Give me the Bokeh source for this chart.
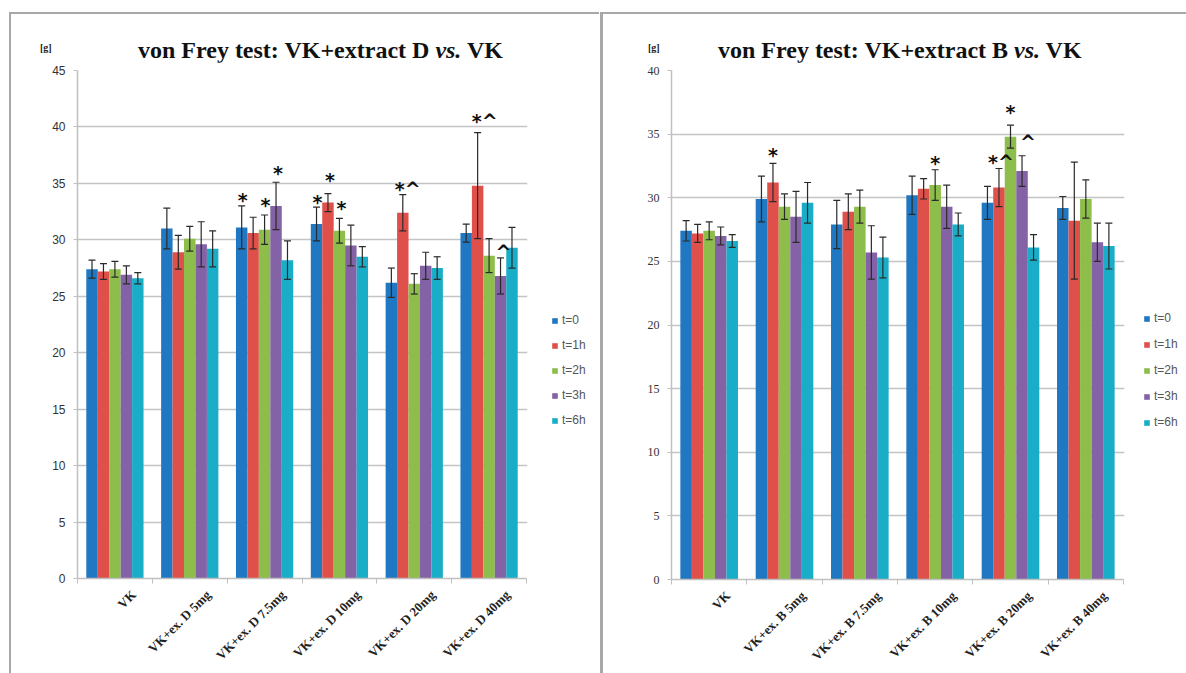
import math
from bokeh.plotting import figure
from bokeh.models import (Range1d, FixedTicker, Label, Legend, LegendItem, Whisker,
                          ColumnDataSource, BoxAnnotation, TeeHead, Div)
from bokeh.layouts import row, column
from bokeh.embed import file_html
from bokeh.resources import INLINE

# ---------------- data ----------------
series = ["t=0", "t=1h", "t=2h", "t=3h", "t=6h"]

cats_D = ["VK", "VK+ex. D 5mg", "VK+ex. D 7.5mg", "VK+ex. D 10mg", "VK+ex. D 20mg", "VK+ex. D 40mg"]
D_t0 = [27.4, 31.0, 31.1, 31.4, 26.2, 30.6]
D_t1 = [27.2, 28.9, 30.6, 33.3, 32.4, 34.8]
D_t2 = [27.4, 30.1, 30.9, 30.8, 26.1, 28.6]
D_t3 = [26.9, 29.6, 33.0, 29.5, 27.7, 26.8]
D_t6 = [26.6, 29.2, 28.2, 28.5, 27.5, 29.3]
D_e0 = [0.8, 1.8, 1.9, 1.5, 1.3, 0.8]
D_e1 = [0.7, 1.5, 1.4, 0.8, 1.6, 4.7]
D_e2 = [0.7, 1.1, 1.3, 1.1, 0.9, 1.5]
D_e3 = [0.8, 2.0, 2.1, 1.8, 1.2, 1.6]
D_e6 = [0.5, 1.6, 1.7, 0.9, 1.0, 1.8]

cats_B = ["VK", "VK+ex. B 5mg", "VK+ex. B 7.5mg", "VK+ex. B 10mg", "VK+ex. B 20mg", "VK+ex. B 40mg"]
B_t0 = [27.4, 29.9, 27.9, 30.2, 29.6, 29.2]
B_t1 = [27.2, 31.2, 28.9, 30.7, 30.8, 28.2]
B_t2 = [27.4, 29.3, 29.3, 31.0, 34.8, 29.9]
B_t3 = [27.0, 28.5, 25.7, 29.3, 32.1, 26.5]
B_t6 = [26.6, 29.6, 25.3, 27.9, 26.1, 26.2]
B_e0 = [0.8, 1.8, 1.9, 1.5, 1.3, 0.9]
B_e1 = [0.7, 1.5, 1.4, 0.8, 1.5, 4.6]
B_e2 = [0.7, 1.0, 1.3, 1.2, 0.9, 1.5]
B_e3 = [0.7, 2.0, 2.1, 1.7, 1.2, 1.5]
B_e6 = [0.5, 1.6, 1.6, 0.9, 1.0, 1.8]

# significance marks: (category index, series index, text)
marks_D = [(2, 0, "*"), (2, 2, "*"), (2, 3, "*"), (3, 0, "*"), (3, 1, "*"), (3, 2, "*"),
           (4, 1, "*^"), (5, 1, "*^"), (5, 3, "^")]
marks_B = [(1, 1, "*"), (3, 2, "*"), (4, 1, "*^"), (4, 2, "*"), (4, 3, "^")]

# ---------------- style / layout ----------------
colors = ["#1F78C1", "#E0504B", "#8DBD4A", "#8462A6", "#1AADC8"]
BAR_W = 0.153
LBL_SHIFT = 0.25
FRAME_GRAY = "#a8a8a8"
# pixel nudges for the marks (dx, dy up)
nudge_D = [(1, 6), (1, 10), (2, 9), (1, 5), (2, 14), (2, 10), (5, 6), (7, 12), (3, 6)]
nudge_B = [(0, 8), (0, 7), (2, 6), (0, 13), (6, 14)]

H = 671
TH = 62
NOMARGIN = (0, 0, 0, 0)


def strip(width, line_left, line_w):
    html = (f'<div style="position:relative;width:{width}px;height:{H}px;">'
            f'<div style="position:absolute;left:{line_left}px;top:12px;width:{line_w}px;'
            f'height:{H}px;background:{FRAME_GRAY};"></div>'
            f'<div style="position:absolute;left:{line_left}px;top:12px;width:{width}px;'
            f'height:2px;background:{FRAME_GRAY};"></div></div>')
    return Div(text=html, width=width, height=H, margin=NOMARGIN)


def title_div(width, part_a, left, gx):
    html = (f'<div style="position:relative;width:{width}px;height:{TH}px;">'
            f'<div style="position:absolute;left:0;top:12px;width:{width}px;height:2px;'
            f'background:{FRAME_GRAY};"></div>'
            f'<span style="position:absolute;left:{gx}px;top:43px;line-height:10px;'
            f"font-family:'Liberation Serif';font-weight:bold;font-size:10px;color:#222;"
            f'white-space:nowrap;">[g]</span>'
            f'<span style="position:absolute;left:{left}px;top:38px;line-height:24px;'
            f"font-family:'Liberation Serif';font-weight:bold;font-size:24px;color:#111;"
            f'white-space:nowrap;">{part_a} <i>vs.</i> VK</span></div>')
    return Div(text=html, width=width, height=TH, margin=NOMARGIN)


def chart(cats, means, errs, marks, nudges, ymax, width, bl, br, bt, frame_h, unit_px,
          tick_font, leg_loc, leg_spacing, gap_box):
    n = len(cats)
    height = H - TH
    bb = height - bt - frame_h
    x_end = (width - bl - br) / unit_px
    p = figure(width=width, height=height, output_backend="svg", toolbar_location=None,
               x_range=Range1d(0, x_end), y_range=Range1d(0, ymax),
               min_border_left=bl, min_border_right=br, min_border_top=bt, min_border_bottom=bb,
               outline_line_color=None, background_fill_color="white", border_fill_color="white",
               margin=NOMARGIN)
    p.xgrid.grid_line_color = None
    p.ygrid.grid_line_color = "#c4c4c4"
    p.ygrid.grid_line_width = 1.5
    p.yaxis.ticker = FixedTicker(ticks=list(range(0, ymax + 1, 5)))
    p.yaxis.axis_line_color = "#c0c0c0"
    p.yaxis.axis_line_width = 1.5
    p.yaxis.major_tick_line_color = "#c0c0c0"
    p.yaxis.major_tick_out = 4
    p.yaxis.major_tick_in = 0
    p.yaxis.minor_tick_line_color = None
    p.yaxis.major_label_standoff = 8
    p.yaxis.major_label_text_font = tick_font
    p.yaxis.major_label_text_font_size = "12px"
    p.yaxis.major_label_text_color = "#333333"

    label_ticks = [i + 0.5 + LBL_SHIFT for i in range(n)]
    p.xaxis.ticker = FixedTicker(ticks=label_ticks, minor_ticks=list(range(0, n + 1)))
    p.xaxis.major_label_overrides = {tk: c for tk, c in zip(label_ticks, cats)}
    p.xaxis.major_label_orientation = math.pi / 4
    p.xaxis.bounds = (0, n)
    p.xaxis.axis_line_color = "#c0c0c0"
    p.xaxis.axis_line_width = 1.5
    p.xaxis.major_tick_line_color = None
    p.xaxis.major_tick_out = 0
    p.xaxis.major_tick_in = 0
    p.xaxis.minor_tick_line_color = "#c0c0c0"
    p.xaxis.minor_tick_out = 5
    p.xaxis.minor_tick_in = 0
    p.xaxis.major_label_standoff = 9
    p.xaxis.major_label_text_font = "Liberation Serif"
    p.xaxis.major_label_text_font_style = "bold"
    p.xaxis.major_label_text_font_size = "13px"
    p.xaxis.major_label_text_color = "#222222"

    # the title box hides part of the top gridline; the legend area has no gridlines
    p.add_layout(BoxAnnotation(left=gap_box[0], right=gap_box[1], bottom=ymax - 0.4, top=ymax + 3,
                               fill_color="white", fill_alpha=1, line_alpha=0))
    p.add_layout(BoxAnnotation(left=n + 0.01, right=x_end + 1, bottom=-1, top=ymax + 3,
                               fill_color="white", fill_alpha=1, line_alpha=0))

    items = []
    for j, name in enumerate(series):
        xs = [i + 0.5 + (j - 2) * BAR_W for i in range(n)]
        src = ColumnDataSource(dict(x=xs, top=means[j],
                                    upper=[m + e for m, e in zip(means[j], errs[j])],
                                    lower=[m - e for m, e in zip(means[j], errs[j])]))
        r = p.vbar(x="x", top="top", width=BAR_W, source=src, fill_color=colors[j], line_color=None)
        items.append(LegendItem(label=name, renderers=[r]))
        p.add_layout(Whisker(base="x", upper="upper", lower="lower", source=src, line_color="#2a2a2a",
                             line_width=1.2, level="overlay",
                             upper_head=TeeHead(size=7, line_color="#2a2a2a", line_width=1.2),
                             lower_head=TeeHead(size=7, line_color="#2a2a2a", line_width=1.2)))

    leg = Legend(items=items, location=leg_loc, padding=0, margin=0, spacing=leg_spacing,
                 glyph_width=7, glyph_height=7, label_height=14, label_standoff=4,
                 label_text_font="Liberation Sans", label_text_font_size="12px",
                 label_text_color="#555555", border_line_color=None, background_fill_alpha=0)
    p.add_layout(leg)

    for (ci, sj, txt), (dx, dy) in zip(marks, nudges):
        p.add_layout(Label(x=ci + 0.5 + (sj - 2) * BAR_W, y=means[sj][ci] + errs[sj][ci],
                           x_offset=dx, y_offset=dy, text=txt, text_align="center",
                           text_baseline="alphabetic", text_font="DejaVu Sans",
                           text_font_style="bold", text_font_size="19px", text_color="#111111"))
    return p


left_strip = strip(12, 9, 2)
mid_strip = strip(5, 1, 3)

t1 = title_div(587, "von Frey test: VK+extract D", 126, 28)
p1 = chart(cats_D, [D_t0, D_t1, D_t2, D_t3, D_t6], [D_e0, D_e1, D_e2, D_e3, D_e6],
           marks_D, nudge_D, 45, 587, 65, 4, 8, 509, 449 / 6,
           "Liberation Sans", (474, 151), 11, (0.43, 6.0))

t2 = title_div(582, "von Frey test: VK+extract B", 114, 44)
p2 = chart(cats_B, [B_t0, B_t1, B_t2, B_t3, B_t6], [B_e0, B_e1, B_e2, B_e3, B_e6],
           marks_B, nudge_B, 40, 582, 67, 4, 8, 511, 452 / 6,
           "Liberation Serif", (472, 150), 12, (0.25, 5.8))

layout = row(left_strip, column(t1, p1), mid_strip, column(t2, p2))
open("out.html", "w").write(file_html(layout, INLINE))
